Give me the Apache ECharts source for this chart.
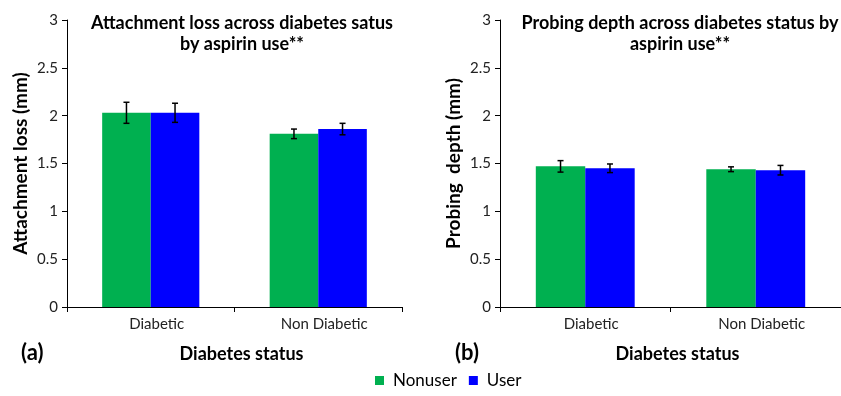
<!DOCTYPE html>
<html><head><meta charset="utf-8">
<script src="https://cdn.jsdelivr.net/npm/echarts@6/dist/echarts.min.js"></script>
<style>html,body{margin:0;padding:0;background:#fff}#c{width:841px;height:396px}</style>
</head><body><div id="c"></div>
<script>
const categories = ['Diabetic', 'Non Diabetic'];
const seriesNames = ['Nonuser', 'User'];
const colors = ['#00B050', '#0000FF'];
// Panel (a): attachment loss (mm)
const attachNonuser = [2.03, 1.81];
const attachNonuserErr = [0.11, 0.05];
const attachUser = [2.03, 1.86];
const attachUserErr = [0.10, 0.06];
// Panel (b): probing depth (mm)
const probeNonuser = [1.47, 1.44];
const probeNonuserErr = [0.06, 0.025];
const probeUser = [1.45, 1.43];
const probeUserErr = [0.045, 0.05];
const yTicks = [0, 0.5, 1, 1.5, 2, 2.5, 3];

const FONT = 'Lato, "Open Sans", sans-serif';
const chart = echarts.init(document.getElementById('c'));

function errSeries(name, gridIdx, vals, errs, sIdx) {
  return {
    type: 'custom', name: name + '_err', xAxisIndex: gridIdx, yAxisIndex: gridIdx, z: 10,
    silent: true, legendHoverLink: false,
    data: vals.map((v, i) => [i, v - errs[i], v + errs[i]]),
    renderItem: function (params, api) {
      const x = api.value(0);
      const lo = api.coord([x, api.value(1)]);
      const hi = api.coord([x, api.value(2)]);
      const band = api.size([1, 0])[0];
      const barW = band * 0.29;
      const off = (sIdx === 0 ? -0.5 : 0.5) * barW;
      const cx = lo[0] + off;
      const cap = 3;
      const st = { stroke: '#000', lineWidth: 1.5 };
      return { type: 'group', children: [
        { type: 'line', shape: { x1: cx, y1: hi[1], x2: cx, y2: lo[1] }, style: st },
        { type: 'line', shape: { x1: cx - cap, y1: hi[1], x2: cx + cap, y2: hi[1] }, style: st },
        { type: 'line', shape: { x1: cx - cap, y1: lo[1], x2: cx + cap, y2: lo[1] }, style: st }
      ]};
    }
  };
}

function xAxis(gridIdx) {
  return {
    type: 'category', gridIndex: gridIdx, data: categories,
    name: 'Diabetes status', nameLocation: 'middle', nameGap: 38,
    nameTextStyle: { fontFamily: FONT, fontWeight: 'bold', fontSize: 18, color: '#000', padding: [0, 0, 0, 14] },
    axisLine: { lineStyle: { color: '#000', width: 1 } },
    axisTick: { show: true, length: 5, lineStyle: { color: '#000' } },
    axisLabel: { fontFamily: FONT, fontSize: 15, color: '#222', margin: 10, padding: [0, 0, 0, 12] }
  };
}
function yAxis(gridIdx, name) {
  return {
    type: 'value', gridIndex: gridIdx, min: 0, max: 3, interval: 0.5,
    name: name, nameLocation: 'middle', nameGap: 37,
    nameTextStyle: { fontFamily: FONT, fontWeight: 'bold', fontSize: 19, color: '#000' },
    axisLine: { show: true, lineStyle: { color: '#000', width: 1 } },
    axisTick: { show: true, length: 5, lineStyle: { color: '#000' } },
    splitLine: { show: false },
    axisLabel: { fontFamily: FONT, fontSize: 15, color: '#222', margin: 9,
      formatter: v => yTicks.includes(v) ? String(v) : '' }
  };
}
function bar(name, gridIdx, vals, ci) {
  return {
    type: 'bar', name: name, xAxisIndex: gridIdx, yAxisIndex: gridIdx,
    data: vals, barGap: '0%', barCategoryGap: '42%',
    itemStyle: { color: colors[ci] }
  };
}

chart.setOption({
  animation: false,
  textStyle: { fontFamily: FONT },
  title: [
    { text: 'Attachment loss across diabetes satus\nby aspirin use**', left: 237, top: 8, textAlign: 'center',
      textStyle: { fontFamily: FONT, fontWeight: 'bold', fontSize: 18, color: '#000', lineHeight: 21 } },
    { text: 'Probing depth across diabetes status by\naspirin use**', left: 675, top: 8, textAlign: 'center',
      textStyle: { fontFamily: FONT, fontWeight: 'bold', fontSize: 18, color: '#000', lineHeight: 21 } },
    { text: '(a)', left: 16, top: 337, textStyle: { fontFamily: FONT, fontWeight: 'bold', fontSize: 22, color: '#000' } },
    { text: '(b)', left: 450, top: 337, textStyle: { fontFamily: FONT, fontWeight: 'bold', fontSize: 22, color: '#000' } }
  ],
  legend: {
    data: seriesNames, bottom: 2, left: 370, itemWidth: 9, itemHeight: 9, itemGap: 12, icon: 'rect',
    textStyle: { fontFamily: FONT, fontSize: 17, color: '#000', padding: [0, 0, 0, 4] }
  },
  grid: [
    { left: 67, right: 439, top: 20, bottom: 89 },
    { left: 500, right: -5, top: 20, bottom: 89 }
  ],
  xAxis: [xAxis(0), xAxis(1)],
  yAxis: [yAxis(0, 'Attachment loss (mm)'), yAxis(1, 'Probing  depth (mm)')],
  series: [
    bar('Nonuser', 0, attachNonuser, 0),
    bar('User', 0, attachUser, 1),
    bar('Nonuser', 1, probeNonuser, 0),
    bar('User', 1, probeUser, 1),
    errSeries('Nonuser', 0, attachNonuser, attachNonuserErr, 0),
    errSeries('User', 0, attachUser, attachUserErr, 1),
    errSeries('Nonuser', 1, probeNonuser, probeNonuserErr, 0),
    errSeries('User', 1, probeUser, probeUserErr, 1)
  ]
});
</script></body></html>
